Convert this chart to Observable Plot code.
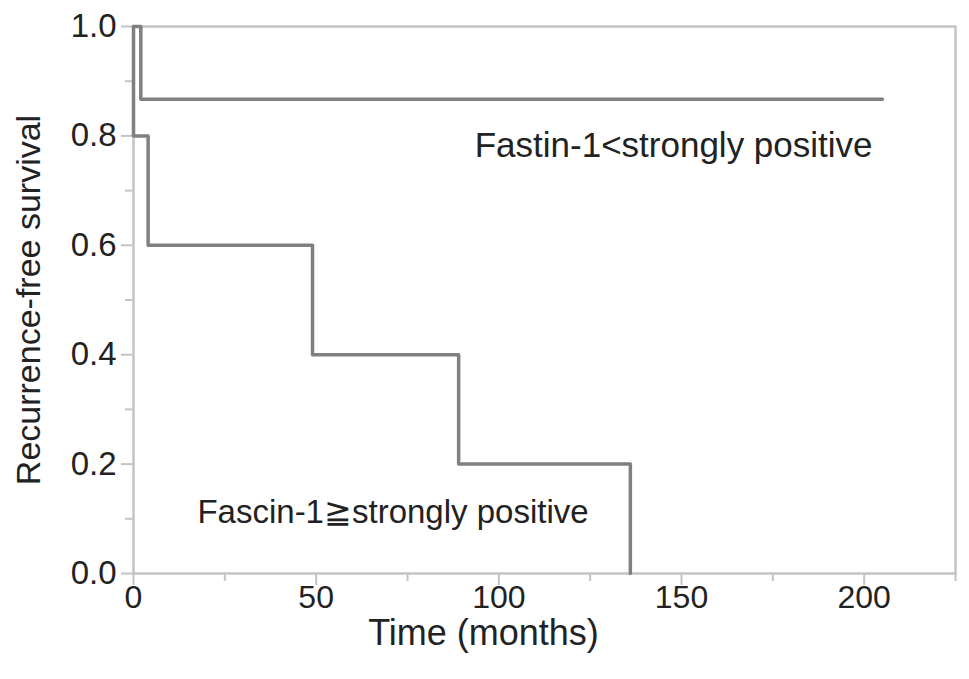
<!DOCTYPE html>
<html>
<head>
<meta charset="utf-8">
<script src="https://cdn.jsdelivr.net/npm/d3@7"></script>
<script src="https://cdn.jsdelivr.net/npm/@observablehq/plot@0.6"></script>
<style>
  html, body { margin: 0; padding: 0; background: #fff; }
  #chart svg { display: block; }
</style>
</head>
<body>
<div id="chart"></div>
<script>
// Kaplan–Meier step data
const lowTimes = [0, 2, 205];
const lowSurv = [1, 0.867, 0.867];
const highTimes = [0, 0, 4, 49, 89, 136];
const highSurv = [1, 0.8, 0.6, 0.4, 0.2, 0];
const xMajorTicks = [0, 50, 100, 150, 200];
const xMinorTicks = [25, 75, 125, 175, 225];
const yMajorTicks = [0, 0.2, 0.4, 0.6, 0.8, 1.0];
const yMinorTicks = [0.1, 0.3, 0.5, 0.7, 0.9];
const groupLabels = ["Fastin-1<strongly positive", "Fascin-1\u2267strongly positive"];
const xTitle = "Time (months)";
const yTitle = "Recurrence-free survival";

const lowData = lowTimes.map((t, i) => ({t, s: lowSurv[i]}));
const highData = highTimes.map((t, i) => ({t, s: highSurv[i]}));

const lineColor = "#808080";
const axisColor = "#c4c4c4";
const textColor = "#222";
const fs = 33;

const chart = Plot.plot({
  width: 969,
  height: 679,
  marginLeft: 133,
  marginRight: 14,
  marginTop: 26,
  marginBottom: 106,
  style: {fontFamily: "'Liberation Sans', Arial, Helvetica, sans-serif", background: "#fff", color: textColor},
  x: {domain: [0, 225]},
  y: {domain: [0, 1]},
  marks: [
    Plot.frame({stroke: axisColor, strokeWidth: 2.5}),
    Plot.axisX(xMajorTicks, {tickSize: 12, tickPadding: 0, stroke: axisColor, strokeWidth: 2, fill: textColor, fontSize: 32, label: null}),
    Plot.axisX(xMinorTicks, {tickSize: 8, stroke: axisColor, strokeWidth: 2, text: null, label: null}),
    Plot.axisY(yMajorTicks, {tickSize: 12, tickPadding: 5, stroke: axisColor, strokeWidth: 2, fill: textColor, fontSize: fs,
      tickFormat: d3.format(".1f"), label: null}),
    Plot.axisY(yMinorTicks, {tickSize: 8, stroke: axisColor, strokeWidth: 2, text: null, label: null}),
    Plot.line(lowData, {x: "t", y: "s", curve: "step-after", stroke: lineColor, strokeWidth: 3.5}),
    Plot.line(highData, {x: "t", y: "s", curve: "step-after", stroke: lineColor, strokeWidth: 3.5}),
    Plot.text([groupLabels[0]], {x: 93.4, y: 0.782, text: d => d, textAnchor: "start", fontSize: 35, fill: textColor}),
    Plot.text([groupLabels[1]], {x: 17.5, y: 0.111, text: d => d, textAnchor: "start", fontSize: 33, fill: textColor}),
    Plot.text([xTitle], {frameAnchor: "bottom", dx: -61, dy: 60, textAnchor: "middle", text: d => d, fontSize: 36, fill: textColor, lineAnchor: "middle"}),
    Plot.text([yTitle], {frameAnchor: "left", dx: -104, rotate: -90, textAnchor: "middle", text: d => d, fontSize: 34, fill: textColor, lineAnchor: "middle"})
  ]
});
document.getElementById("chart").appendChild(chart);
</script>
</body>
</html>
